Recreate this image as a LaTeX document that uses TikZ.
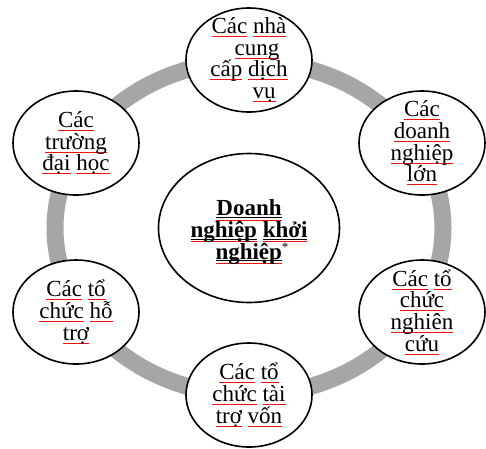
\documentclass[tikz,border=0pt]{standalone}
\usepackage{fontspec}
\setmainfont{Liberation Serif}
\usepackage{xcolor}
\usepackage{tikz}
\usetikzlibrary{shapes.geometric}
\definecolor{networkRing}{HTML}{A6A6A6}
\definecolor{networkInk}{HTML}{000000}
\definecolor{spellRed}{HTML}{F01010}
\newcommand{\spellword}[1]{\setbox0=\hbox{#1}\rlap{\color{spellRed}\rule[-3.5pt]{\wd0}{1pt}}\box0\relax}
\newcommand{\spellbold}[1]{\setbox0=\hbox{#1}\rlap{\rule[-2pt]{\wd0}{0.9pt}}\rlap{\color{spellRed}\rule[-5pt]{\wd0}{1.1pt}}\box0\relax}
\newcommand{\footstar}{\raisebox{8pt}{\mdseries\fontsize{13}{13}\selectfont *}}
\tikzset{
  partner/.style={
    ellipse,
    draw=networkInk,
    fill=white,
    line width=1.6pt,
    minimum width=126pt,
    minimum height=104pt,
    inner sep=-20pt,
    align=center,
    font=\fontsize{23}{21.7}\selectfont
  },
  hub/.style={
    ellipse,
    draw=networkInk,
    fill=white,
    line width=1.6pt,
    minimum width=181pt,
    minimum height=149pt,
    inner sep=-20pt,
    align=center,
    font=\bfseries\fontsize{23}{21.7}\selectfont
  },
  ring/.style={
    draw=networkRing,
    line width=17pt
  }
}

\begin{document}
\begin{tikzpicture}[x=1pt,y=-1pt]
  \useasboundingbox (0,0) rectangle (486,448);
  \coordinate (middle) at (249,228);
  \draw[ring] (middle) ellipse [x radius=194pt, y radius=167pt];
  \node[hub] (startup) at (middle) {\rule{0pt}{24pt}\spellbold{Doanh}\\\spellbold{nghiệp} \spellbold{khởi}\\\hspace*{6pt}\spellbold{nghiệp}\footstar};
  \node[partner] (suppliers) at (249,60) {\spellword{Các} \spellword{nhà}\\\hspace*{16pt}\spellword{cung}\\\spellword{cấp} \spellword{dịch}\\\hspace*{30pt}\spellword{vụ}};
  \node[partner] (universities) at (76,143) {\spellword{Các}\\\spellword{trường}\\\spellword{đại} \spellword{học}};
  \node[partner] (bigfirms) at (422,143) {\spellword{Các}\\\spellword{doanh}\\\spellword{nghiệp}\\\spellword{lớn}};
  \node[partner] (support) at (76,312) {\spellword{Các} \spellword{tổ}\\\spellword{chức} \spellword{hỗ}\\\spellword{trợ}};
  \node[partner] (research) at (422,312) {\spellword{Các} \spellword{tổ}\\\spellword{chức}\\\spellword{nghiên}\\\spellword{cứu}};
  \node[partner] (funders) at (249,395) {\spellword{Các} \spellword{tổ}\\\spellword{chức} \spellword{tài}\\\spellword{trợ} \spellword{vốn}};
\end{tikzpicture}
\end{document}
